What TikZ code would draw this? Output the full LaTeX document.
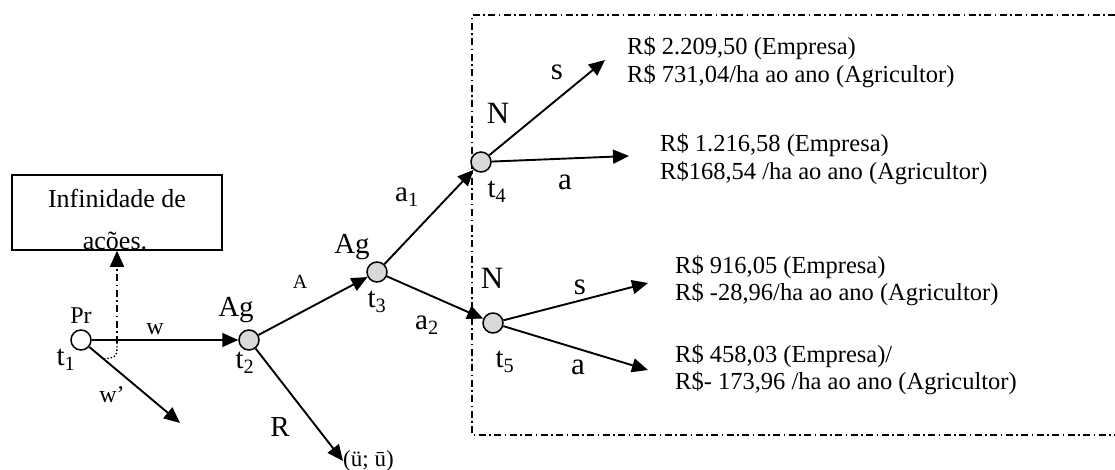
\documentclass[tikz,border=0pt]{standalone}
\usepackage{fontspec}
\setmainfont{Liberation Serif}
\usetikzlibrary{arrows.meta}
\begin{document}
\begin{tikzpicture}[x=1pt,y=-1pt,
  state/.style={circle,draw,line width=1.5pt,minimum size=20pt,inner sep=0pt,fill=black!15},
  start/.style={state,fill=white},
  edge/.style={line width=1.9pt,-{Triangle[length=16pt,width=14pt]}},
  lbl/.style={inner sep=0pt,font=\fontsize{29}{33}\selectfont},
  boxtext/.style={inner sep=0pt,font=\fontsize{26}{30}\selectfont},
  smalllbl/.style={inner sep=0pt,font=\fontsize{24}{28}\selectfont},
  big/.style={inner sep=0pt,font=\fontsize{31}{35}\selectfont},
  res/.style={inner sep=0pt,anchor=base west,font=\fontsize{24.5}{27.5}\selectfont},
  frame/.style={line width=1.4pt,dash pattern=on 7pt off 3.5pt on 1.5pt off 3.5pt},
  dotline/.style={line width=1.4pt,dotted}]
\useasboundingbox (0,0) rectangle (1115,470);

% dash-dot frame (open on the right)
\coordinate (f0) at (1115,15);
\coordinate (f1) at (472,15);
\coordinate (f2) at (472,435);
\coordinate (f3) at (1115,435);
\draw[frame] (f0) -- (f1) -- (f2) -- (f3);

% decision nodes
\node[start] (t1) at (81,340) {};
\node[state] (t2) at (249,340) {};
\node[state] (t3) at (377,272) {};
\node[state] (t4) at (481,162) {};
\node[state] (t5) at (493,323) {};

% box
\node[boxtext,anchor=base] (box1) at (117,208) {Infinidade de};
\node[boxtext,anchor=base] (box2) at (115,249) {acões.};
\node[draw,line width=1.5pt,minimum width=210pt,minimum height=75pt,inner sep=0pt] (box) at (117,212.5) {};

% free ends
\coordinate (e1) at (180,423);
\coordinate (e2) at (343,461);
\coordinate (e3) at (605,60);
\coordinate (e4) at (629,156);
\coordinate (e5) at (648,283);
\coordinate (e6) at (648,370);
\coordinate (d0) at (104,359);
\coordinate (d1) at (117,343);

% connectors
\draw[edge] (t1) -- (t2);
\draw[edge] (t1) -- (e1);
\draw[edge] (t2) -- (t3);
\draw[edge] (t2) -- (e2);
\draw[edge] (t3) -- (t4);
\draw[edge] (t3) -- (t5);
\draw[edge] (t4) -- (e3);
\draw[edge] (t4) -- (e4);
\draw[edge] (t5) -- (e5);
\draw[edge] (t5) -- (e6);
\draw[dotline] (d0) .. controls (117,357) .. (d1);
\draw[frame,-{Triangle[length=16pt,width=14pt]}] (d1) -- (box.south);

% labels
\node[smalllbl] (lPr) at (81,316) {Pr};
\node[lbl] (l1) at (66,360) {t\textsubscript{1}};
\node[smalllbl] (lw) at (155,329) {w};
\node[smalllbl] (lw2) at (112,395) {w\char"0027};
\node[lbl] (lAg2) at (236,310) {Ag};
\node[lbl] (l2) at (245,363) {t\textsubscript{2}};
\node[inner sep=0pt,font=\fontsize{20}{24}\selectfont] (lA) at (300,282) {A};
\node[lbl] (lR) at (280,427) {R};
\node[inner sep=0pt,anchor=west,font=\fontsize{23}{27}\selectfont] (lu) at (343,461) {(ü; ū)};
\node[lbl] (lAg3) at (352,247) {Ag};
\node[lbl] (l3) at (377,302) {t\textsubscript{3}};
\node[lbl] (la1) at (407,197) {a\textsubscript{1}};
\node[lbl] (la2) at (427,325) {a\textsubscript{2}};
\node[big] (lN4) at (498,113) {N};
\node[lbl] (l4) at (497,192) {t\textsubscript{4}};
\node[big] (ls4) at (557,72) {s};
\node[big] (la4) at (565,182) {a};
\node[big] (lN5) at (492,278) {N};
\node[lbl] (l5) at (505,362) {t\textsubscript{5}};
\node[big] (ls5) at (580,287) {s};
\node[big] (la5) at (578,367) {a};

% payoffs
\node[res] (r1a) at (627,55) {R\$ 2.209,50 (Empresa)};
\node[res] (r1b) at (627,83) {R\$ 731,04/ha ao ano (Agricultor)};
\node[res] (r2a) at (660,152) {R\$ 1.216,58 (Empresa)};
\node[res] (r2b) at (660,180) {R\$168,54 /ha ao ano (Agricultor)};
\node[res] (r3a) at (675,273) {R\$ 916,05 (Empresa)};
\node[res] (r3b) at (675,300) {R\$ -28,96/ha ao ano (Agricultor)};
\node[res] (r4a) at (675,362) {R\$ 458,03 (Empresa)/};
\node[res] (r4b) at (675,389) {R\$- 173,96 /ha ao ano (Agricultor)};
\end{tikzpicture}
\end{document}
